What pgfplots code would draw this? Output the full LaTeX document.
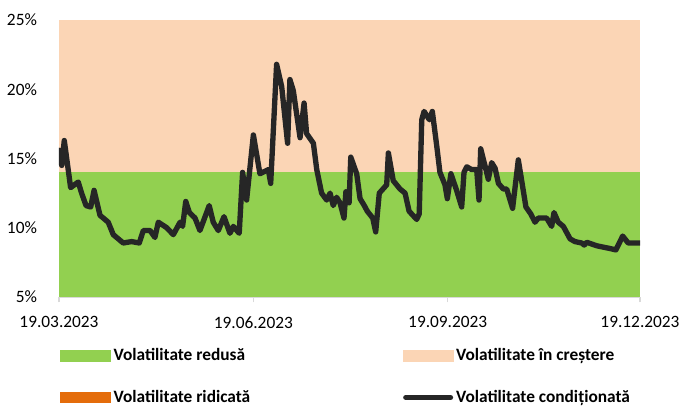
\documentclass[border=0pt]{standalone}
\usepackage{pgfplots}
\pgfplotsset{compat=1.18}
\usepackage{pgfplotstable}
\usepackage{fontspec}
\setmainfont{Carlito}
\definecolor{cgreen}{HTML}{92D050}
\definecolor{cpeach}{HTML}{FBD5B5}
\definecolor{corange}{HTML}{E46C0A}
\definecolor{cline}{HTML}{262626}
\definecolor{caxis}{HTML}{D9D9D9}
\pgfplotstableread{
d v
0 15.6
1.3 14.5
2.5 16.3
5.5 12.9
9.1 13.3
10.7 12.5
12.8 11.6
15.0 11.5
16.6 12.7
19.4 10.9
23.3 10.4
25.7 9.5
30.4 8.9
34.4 9.0
38.0 8.9
39.9 9.8
43.1 9.8
45.4 9.3
47.0 10.4
51.0 10.0
54.1 9.5
57.3 10.4
58.5 10.1
60.0 11.9
61.7 11.1
64.4 10.7
66.7 9.8
71.1 11.6
73.0 10.4
75.4 9.8
78.1 10.8
80.9 9.6
82.5 10.1
85.3 9.6
86.9 14.0
88.8 12.0
92.0 16.7
95.1 13.9
99.1 14.2
100.2 13.2
103.0 21.8
105.4 20.2
108.2 16.1
109.3 20.7
110.9 19.9
114.1 16.5
116.0 19.0
117.2 16.8
120.4 16.1
122.0 14.2
124.3 12.5
126.7 12.0
128.3 12.5
129.8 11.6
131.4 12.2
133.0 11.8
134.9 10.7
135.8 12.6
137.3 11.8
138.1 15.1
140.9 13.9
142.5 12.1
144.5 11.6
145.9 11.2
148.5 10.7
149.9 9.7
151.6 12.5
155.1 13.1
155.9 15.4
158.2 13.4
161.4 12.8
163.8 12.5
165.7 11.2
169.3 10.6
170.5 11.0
171.7 17.8
172.8 18.4
175.3 17.8
176.7 18.4
178.8 15.9
180.3 14.0
182.7 13.1
183.8 12.1
185.5 13.9
188.2 12.7
190.6 11.5
191.7 14.0
193.0 14.4
195.3 14.2
197.7 14.2
198.8 12.0
199.6 15.7
201.6 14.5
203.2 13.5
204.8 14.7
206.4 14.3
208.0 13.2
210.3 12.8
211.9 12.8
213.5 12.0
214.7 11.4
217.4 14.9
219.0 13.4
221.0 11.5
223.3 11.0
225.3 10.4
226.9 10.7
230.8 10.7
233.2 10.1
234.3 11.1
236.3 10.4
238.7 10.1
241.9 9.2
244.2 9.0
247.4 8.9
248.6 8.75
249.8 8.95
254.5 8.7
257.6 8.6
260.8 8.5
263.6 8.4
266.8 9.4
269.4 8.9
275 8.9
}\voldata
\begin{document}
\fontsize{13}{15}\selectfont
\begin{tikzpicture}
\begin{axis}[
  scale only axis, width=435.75pt, height=207.75pt,
  xmin=0, xmax=275, ymin=5, ymax=25,
  axis lines*=left,
  y axis line style={draw=none},
  x axis line style={draw=caxis, line width=1.1pt},
  ytick={5,10,15,20,25},
  yticklabels={5\%,10\%,15\%,20\%,25\%},
  ytick style={draw=none},
  yticklabel style={anchor=east, xshift=-8pt},
  xtick={0,92,184,275},
  xticklabels={19.03.2023,19.06.2023,19.09.2023,19.12.2023},
  xtick style={draw=caxis, line width=1.1pt},
  tick align=outside, major tick length=4pt,
  xticklabel style={yshift=-6pt},
  legend columns=2,
  legend cell align=left,
  legend style={at={(axis description cs:-0.005,-0.166)}, anchor=north west,
    draw=none, fill=none, font=\bfseries, row sep=16pt,
    /tikz/every even column/.append style={column sep=112.5pt}},
]
\addplot[fill=cpeach, draw=none, forget plot] coordinates {(0,14) (0,25) (275,25) (275,14)} -- cycle;
\addplot[fill=cgreen, draw=none, forget plot] coordinates {(0,5) (0,14) (275,14) (275,5)} -- cycle;
\addlegendimage{legend image code/.code={\fill[cgreen] (0pt,-4pt) rectangle (37.5pt,4pt);}}
\addlegendentry{Volatilitate redusă}
\addlegendimage{legend image code/.code={\fill[cpeach] (0pt,-4pt) rectangle (37.5pt,4pt);}}
\addlegendentry{Volatilitate în creștere}
\addlegendimage{legend image code/.code={\fill[corange] (0pt,-4pt) rectangle (37.5pt,4pt);}}
\addlegendentry{Volatilitate ridicată}
\addplot[cline, line width=4pt, line join=round, line cap=round,
  legend image code/.code={\draw[cline, line width=4pt, line cap=round] (2pt,0pt) -- (35.5pt,0pt);}]
  table[x=d, y=v] {\voldata};
\addlegendentry{Volatilitate condiționată}
\end{axis}
\pgfresetboundingbox
\path (-44.25pt,-82.5pt) rectangle (476.25pt,222.75pt);
\end{tikzpicture}
\end{document}
